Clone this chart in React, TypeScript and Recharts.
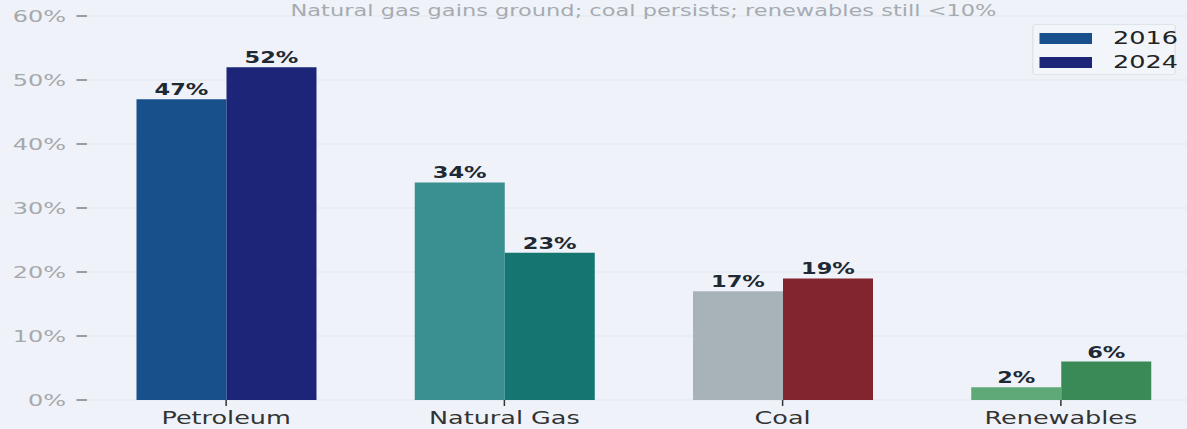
import { BarChart, Bar, XAxis, YAxis, CartesianGrid, LabelList, Cell } from 'recharts';

const categories = ['Petroleum', 'Natural Gas', 'Coal', 'Renewables'];
const share2016 = [47, 34, 17, 2];
const share2024 = [52, 23, 19, 6];
const colors2016 = ['#17508a', '#3a9090', '#a8b3b7', '#5fa878'];
const colors2024 = ['#1c2578', '#157571', '#82252f', '#3a8a58'];
const yTicks = [0, 10, 20, 30, 40, 50, 60];
const seriesNames = ['2016', '2024'];
const legendColors = ['#17508a', '#1c2578'];
const title = 'Natural gas gains ground; coal persists; renewables still <10%';

const data = categories.map((name, i) => ({
  name,
  y2016: share2016[i],
  y2024: share2024[i],
}));

const font = '"DejaVu Sans", sans-serif';

export default function App() {
  return (
    <div
      style={{
        position: 'absolute',
        left: 0,
        top: 0,
        width: 1187,
        height: 429,
        overflow: 'hidden',
        background: '#eff3f9',
        fontFamily: font,
      }}
    >
      {/* the reference is stretched ~1.5x horizontally */}
      <div style={{ position: 'relative', width: 800, height: 429, transform: 'scaleX(1.5)', transformOrigin: '0 0' }}>
        <BarChart
          width={800}
          height={429}
          data={data}
          margin={{ top: 16, right: 0, bottom: 0, left: 0 }}
          barCategoryGap={33}
          barGap={0}
          style={{ fontFamily: font }}
        >
          <CartesianGrid vertical={false} stroke="#e2e7ee" />
          <XAxis
            dataKey="name"
            interval={0}
            height={29}
            axisLine={false}
            tickLine={{ stroke: '#333' }}
            tickSize={6}
            tickMargin={6}
            tick={{ fill: '#333', fontSize: 17 }}
          />
          <YAxis
            domain={[0, 60]}
            ticks={yTicks}
            width={58}
            axisLine={false}
            tickLine={{ stroke: '#444' }}
            tickSize={7}
            tickMargin={7}
            tick={{ fill: '#a5a9ad', fontSize: 16 }}
            tickFormatter={(v: number) => `${v}%`}
          />
          <Bar dataKey="y2016" name={seriesNames[0]} isAnimationActive={false}>
            {data.map((d, i) => (
              <Cell key={d.name} fill={colors2016[i]} />
            ))}
            <LabelList
              dataKey="y2016"
              position="top"
              offset={4}
              formatter={(v: number) => `${v}%`}
              style={{ fill: '#1f2933', fontWeight: 'bold', fontSize: 15 }}
            />
          </Bar>
          <Bar dataKey="y2024" name={seriesNames[1]} isAnimationActive={false}>
            {data.map((d, i) => (
              <Cell key={d.name} fill={colors2024[i]} />
            ))}
            <LabelList
              dataKey="y2024"
              position="top"
              offset={4}
              formatter={(v: number) => `${v}%`}
              style={{ fill: '#1f2933', fontWeight: 'bold', fontSize: 15 }}
            />
          </Bar>
        </BarChart>

        {/* Title */}
        <div
          style={{
            position: 'absolute',
            left: 58,
            width: 742,
            top: 3,
            textAlign: 'center',
            fontSize: 15,
            lineHeight: '16px',
            color: '#a6abb1',
          }}
        >
          {title}
        </div>

        {/* Legend */}
        <div
          style={{
            position: 'absolute',
            left: 688,
            top: 24,
            width: 96,
            height: 51,
            boxSizing: 'border-box',
            border: '1px solid #dfe4ea',
            borderRadius: 3,
            background: '#f2f5f9',
          }}
        >
          {seriesNames.map((s, i) => (
            <div key={s} style={{ position: 'absolute', left: 4, top: 6 + i * 24, height: 14, display: 'flex', alignItems: 'center' }}>
              <div style={{ width: 35, height: 11, background: legendColors[i] }} />
              <span style={{ marginLeft: 14, fontSize: 17, color: '#222', lineHeight: '14px' }}>{s}</span>
            </div>
          ))}
        </div>
      </div>
    </div>
  );
}
